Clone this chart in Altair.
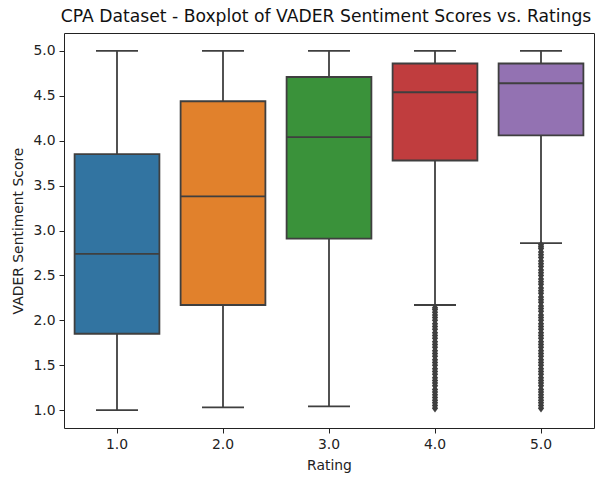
import altair as alt
import pandas as pd

ratings = ["1.0", "2.0", "3.0", "4.0", "5.0"]
colors = ["#3274a1", "#e1812c", "#3a923a", "#c03d3e", "#9372b2"]
whisk_low = [1.00, 1.03, 1.04, 2.17, 2.86]
q1 = [1.85, 2.17, 2.91, 3.78, 4.06]
median = [2.74, 3.38, 4.04, 4.54, 4.64]
q3 = [3.85, 4.44, 4.71, 4.86, 4.86]
whisk_high = [5.00, 5.00, 5.00, 5.00, 5.00]

outliers_4 = [1.02, 1.05, 1.08, 1.11, 1.14, 1.17, 1.20, 1.23, 1.27, 1.30, 1.33,
              1.36, 1.40, 1.43, 1.46, 1.50, 1.53, 1.56, 1.60, 1.63, 1.66, 1.70,
              1.73, 1.76, 1.80, 1.83, 1.86, 1.90, 1.93, 1.96, 2.00, 2.03, 2.06,
              2.09, 2.12, 2.14]
outliers_5 = [1.02, 1.05, 1.08, 1.11, 1.14, 1.17, 1.20, 1.23, 1.27, 1.30, 1.33,
              1.36, 1.40, 1.43, 1.46, 1.50, 1.53, 1.56, 1.60, 1.63, 1.66, 1.70,
              1.73, 1.76, 1.80, 1.83, 1.86, 1.90, 1.93, 1.96, 2.00, 2.03, 2.06,
              2.10, 2.13, 2.16, 2.20, 2.23, 2.26, 2.30, 2.33, 2.36, 2.40, 2.43,
              2.46, 2.50, 2.53, 2.56, 2.60, 2.63, 2.66, 2.70, 2.73, 2.76, 2.80,
              2.82, 2.84]

box_df = pd.DataFrame({
    "Rating": ratings, "low": whisk_low, "q1": q1, "med": median,
    "q3": q3, "high": whisk_high,
})
out_df = pd.DataFrame({
    "Rating": ["4.0"] * len(outliers_4) + ["5.0"] * len(outliers_5),
    "v": outliers_4 + outliers_5,
})

LINE = "#3f3f3f"
FONT = "DejaVu Sans"
SW = 1.8

x = alt.X("Rating:N", sort=ratings,
          scale=alt.Scale(domain=ratings, paddingInner=0.2, paddingOuter=0.1),
          axis=alt.Axis(title="Rating", labelAngle=0, domain=False,
                        tickSize=5, tickColor="#222", labelPadding=4,
                        titlePadding=8))
yscale = alt.Scale(domain=[0.8, 5.2], nice=False, zero=False)
yaxis = alt.Axis(title="VADER Sentiment Score", values=[1.0, 1.5, 2.0, 2.5, 3.0, 3.5, 4.0, 4.5, 5.0],
                 format=".1f", grid=False, domain=False, tickSize=5,
                 tickColor="#222", labelPadding=4, titlePadding=7)

base = alt.Chart(box_df)

whisk_lo = base.mark_rule(color=LINE, strokeWidth=SW).encode(
    x=x, y=alt.Y("low:Q", scale=yscale, axis=yaxis), y2="q1:Q")
whisk_hi = base.mark_rule(color=LINE, strokeWidth=SW).encode(
    x=x, y=alt.Y("q3:Q", scale=yscale, axis=yaxis), y2="high:Q")
cap_lo = base.mark_tick(color=LINE, size=42, thickness=SW, opacity=1).encode(
    x=x, y=alt.Y("low:Q", scale=yscale, axis=yaxis))
cap_hi = base.mark_tick(color=LINE, size=42, thickness=SW, opacity=1).encode(
    x=x, y=alt.Y("high:Q", scale=yscale, axis=yaxis))
box = base.mark_bar(stroke=LINE, strokeWidth=SW, opacity=1).encode(
    x=x, y=alt.Y("q1:Q", scale=yscale, axis=yaxis), y2="q3:Q",
    color=alt.Color("Rating:N", scale=alt.Scale(domain=ratings, range=colors), legend=None))
med = base.mark_tick(color=LINE, size=85, thickness=SW, opacity=1).encode(
    x=x, y=alt.Y("med:Q", scale=yscale, axis=yaxis))
pts = alt.Chart(out_df).mark_point(
    shape="M0,-1L0.75,0L0,1L-0.75,0Z", filled=True, color=LINE, size=70, opacity=1
).encode(x=x, y=alt.Y("v:Q", scale=yscale, axis=yaxis))

chart = alt.layer(whisk_lo, whisk_hi, cap_lo, cap_hi, box, med, pts).properties(
    width=530, height=395,
    background="white",
    title=alt.TitleParams("CPA Dataset - Boxplot of VADER Sentiment Scores vs. Ratings",
                          fontSize=17.2, font=FONT, fontWeight="normal", color="#111",
                          anchor="middle", offset=8, dx=-3),
    autosize=alt.AutoSizeParams(type="none"),
    padding={"left": 64, "top": 33, "right": 12, "bottom": 51},
).configure_axis(
    labelFont=FONT, titleFont=FONT, labelFontSize=13.9, titleFontSize=13.9,
    labelColor="#222", titleColor="#222", titleFontWeight="normal"
).configure_view(stroke="#222", strokeWidth=1)

chart.save("out.html", embed_options={"renderer": "svg", "actions": False})
